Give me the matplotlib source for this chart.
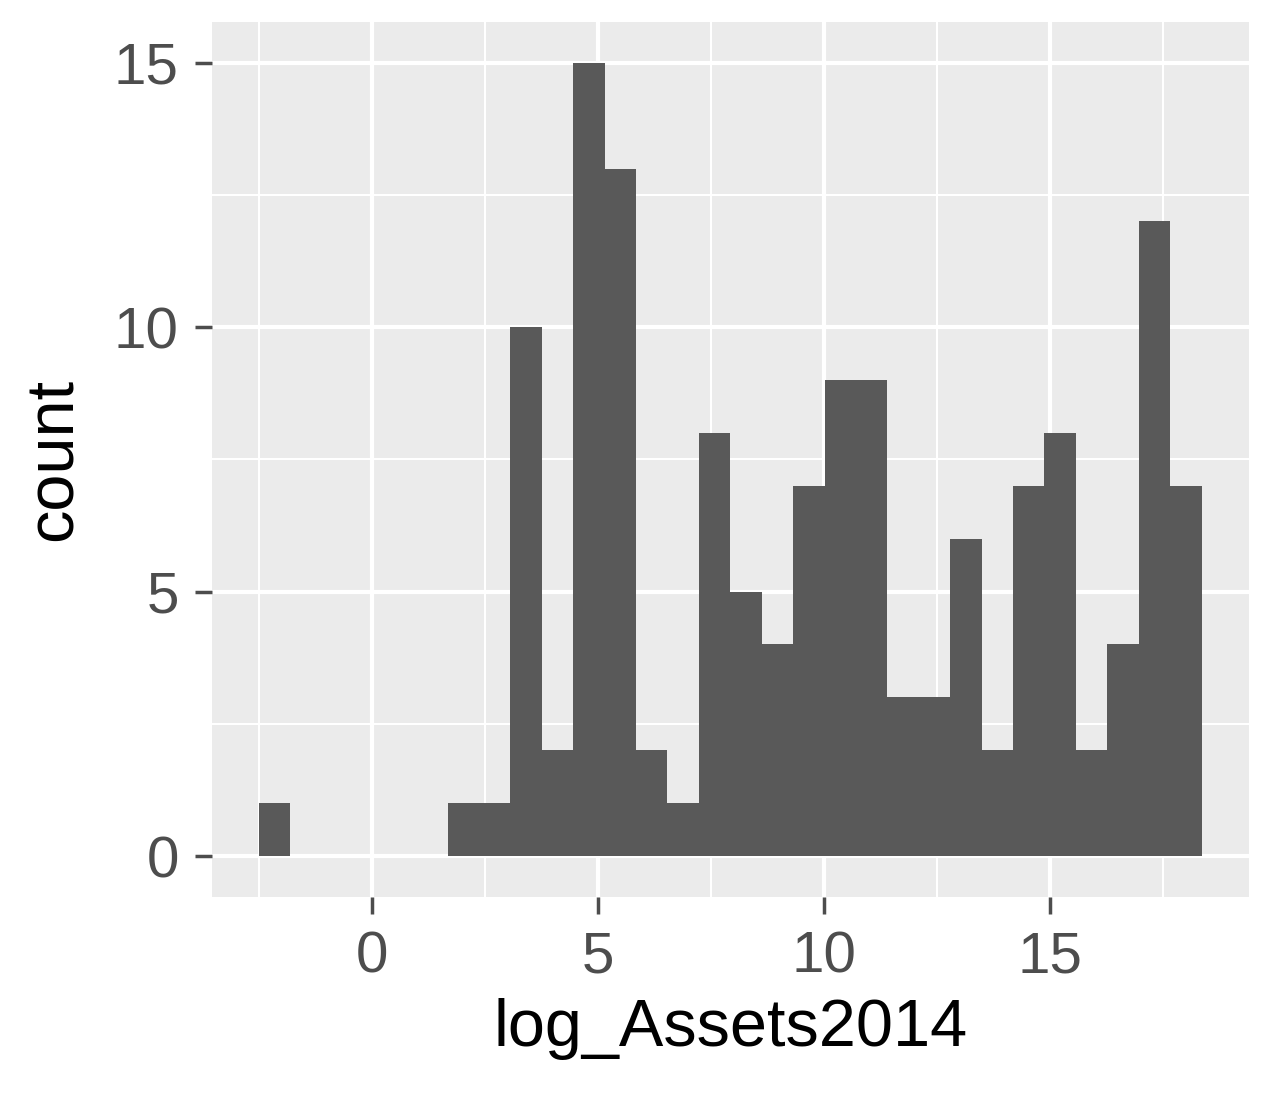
import matplotlib
matplotlib.use("Agg")
import matplotlib.pyplot as plt
import numpy as np

plt.rcParams['font.family'] = ['Liberation Sans', 'DejaVu Sans']

counts = [1,0,0,0,0,0,1,1,10,2,15,13,2,1,8,5,4,7,9,9,3,3,6,2,7,8,2,4,12,7]
bin_start = -2.5
bin_width = 0.695
x_ticks = [0, 5, 10, 15]
y_ticks = [0, 5, 10, 15]

edges = bin_start + bin_width * np.arange(len(counts))

fig = plt.figure(figsize=(12.66, 11.19), dpi=100)
ax = fig.add_axes([0.1675, 0.1984, 0.8191, 0.7819])
ax.set_facecolor("#EBEBEB")
for s in ax.spines.values():
    s.set_visible(False)
ax.set_xlim(-3.54, 19.4)
ax.set_ylim(-0.775, 15.77)
for v in np.arange(-2.5, 19, 2.5):
    ax.axvline(v, color="white", lw=3.0 if v % 5 == 0 else 1.5, zorder=0)
for v in np.arange(0, 16, 2.5):
    ax.axhline(v, color="white", lw=3.0 if v % 5 == 0 else 1.5, zorder=0)
ax.bar(edges, counts, width=bin_width, align="edge", color="#595959", zorder=2)
ax.set_xticks(x_ticks)
ax.set_yticks(y_ticks)
ax.tick_params(labelsize=42, colors="#4D4D4D", length=12, width=2.5, labelcolor="#4D4D4D", pad=12)
ax.set_xlabel("log_Assets2014", fontsize=48, color="black", labelpad=10)
ax.set_ylabel("count", fontsize=48, color="black", labelpad=20)
fig.savefig("out.png", dpi=100)
